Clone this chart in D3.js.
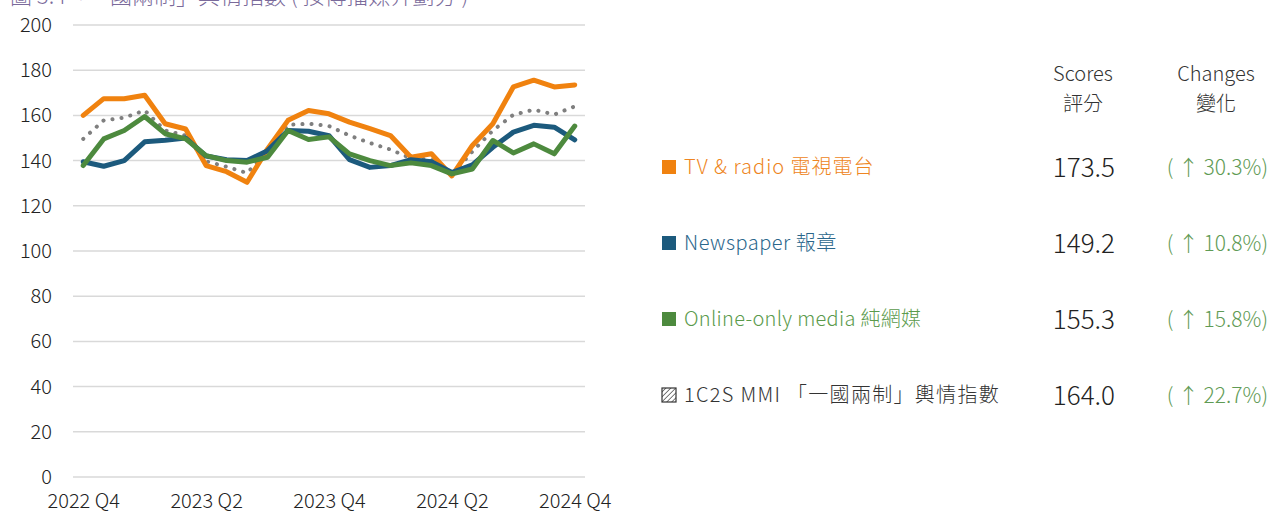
<!DOCTYPE html>
<html>
<head>
<meta charset="utf-8">
<script src="https://cdn.jsdelivr.net/npm/d3@7"></script>
<style>
  body { margin: 0; background: #fff; }
  text { font-family: "Noto Sans CJK TC", "Noto Sans", sans-serif; font-weight: 300; }
</style>
</head>
<body>
<script>
// x axis: monthly points, labels every 6 months
var periods = d3.range(25);
var tickLabels = ["2022 Q4", "2023 Q2", "2023 Q4", "2024 Q2", "2024 Q4"];
var tickIndex = [0, 6, 12, 18, 24];
var yTicks = [0, 20, 40, 60, 80, 100, 120, 140, 160, 180, 200];

var tvRadio = [160.0, 167.4, 167.4, 168.9, 156.3, 154.0, 137.8, 135.1, 130.4, 145.2, 157.8, 162.2, 160.7,
               157.0, 154.1, 151.1, 141.5, 143.0, 133.2, 146.7, 156.3, 172.6, 175.6, 172.6, 173.5];
var newspaper = [139.5, 137.5, 140.0, 148.3, 149.0, 150.0, 142.0, 140.4, 140.0, 144.4, 153.3, 153.0, 151.0,
                 140.4, 137.0, 137.8, 140.4, 139.5, 134.7, 138.1, 145.9, 152.6, 155.6, 154.8, 149.2];
var onlineOnly = [137.8, 149.6, 153.3, 159.5, 151.9, 149.6, 142.2, 140.0, 139.3, 141.5, 153.3, 149.3, 150.5,
                  143.0, 140.0, 137.8, 139.0, 137.8, 134.1, 136.3, 148.9, 143.4, 147.4, 143.0, 155.3];
var mmi = [149.6, 157.8, 159.0, 162.2, 153.3, 151.1, 139.7, 137.3, 134.5, 144.0, 155.8, 156.3, 155.3,
           151.1, 147.8, 144.9, 141.0, 140.5, 133.7, 144.0, 153.3, 160.3, 162.5, 160.4, 164.0];

// legend table
var seriesNames = ["TV & radio 電視電台", "Newspaper 報章", "Online-only media 純網媒", "1C2S MMI 「一國兩制」輿情指數"];
var scores = ["173.5", "149.2", "155.3", "164.0"];
var changes = ["30.3%", "10.8%", "15.8%", "22.7%"];

var width = 1271, height = 514;

var svg = d3.select("body").append("svg")
    .attr("width", width)
    .attr("height", height);

// hatch pattern for the MMI legend box
var pat = svg.append("defs").append("pattern")
    .attr("id", "hatch")
    .attr("patternUnits", "userSpaceOnUse")
    .attr("width", 3.5).attr("height", 3.5)
    .attr("patternTransform", "rotate(45)");
pat.append("line").attr("x1", 0).attr("y1", 0).attr("x2", 0).attr("y2", 3.5)
    .attr("stroke", "#333").attr("stroke-width", 1.3);

// title, cut off by the top of the picture
svg.append("text")
    .attr("x", 10).attr("y", 4)
    .attr("fill", "#7b6b9b")
    .style("font-size", "22px")
    .text("圖 3.4「一國兩制」輿情指數 ( 按傳播媒介劃分 )");

var x = d3.scalePoint()
    .domain(periods)
    .range([73, 585])
    .padding(0.5);

var y = d3.scaleLinear()
    .domain([0, 200])
    .range([477, 25]);

// gridlines
svg.append("g")
    .selectAll("line")
    .data(yTicks)
    .enter().append("line")
    .attr("x1", 73).attr("x2", 585)
    .attr("y1", function(d) { return y(d); })
    .attr("y2", function(d) { return y(d); })
    .attr("stroke", "#d9d9d9")
    .attr("stroke-width", 1.5);

// y axis labels
var yAxis = svg.append("g")
    .attr("transform", "translate(58,0)")
    .call(d3.axisLeft(y).tickValues(yTicks).tickSize(0).tickPadding(6));
yAxis.select(".domain").remove();
yAxis.selectAll("text")
    .attr("fill", "#222")
    .style("font-size", "20px")
    .style("font-family", "'Noto Sans CJK TC', sans-serif");

// x axis labels
var xAxis = svg.append("g")
    .attr("transform", "translate(0,491)")
    .call(d3.axisBottom(x).tickValues(tickIndex).tickSize(0).tickPadding(3)
        .tickFormat(function(d, i) { return tickLabels[i]; }));
xAxis.select(".domain").remove();
xAxis.selectAll("text")
    .attr("fill", "#222")
    .style("font-size", "20px")
    .style("font-family", "'Noto Sans CJK TC', sans-serif");

var line = d3.line()
    .x(function(d, i) { return x(i); })
    .y(function(d) { return y(d); });

// series lines, MMI dotted
var series = [
    {"data": mmi, "color": "#7f7f7f", "dotted": true},
    {"data": tvRadio, "color": "#f0820f", "dotted": false},
    {"data": newspaper, "color": "#1c5a7d", "dotted": false},
    {"data": onlineOnly, "color": "#4d8a3e", "dotted": false}
];

svg.append("g")
    .selectAll("path")
    .data(series)
    .enter().append("path")
    .attr("d", function(d) { return line(d.data); })
    .attr("fill", "none")
    .attr("stroke", function(d) { return d.color; })
    .attr("stroke-width", function(d) { return d.dotted ? 4 : 5; })
    .attr("stroke-linecap", "round")
    .attr("stroke-linejoin", "round")
    .attr("stroke-dasharray", function(d) { return d.dotted ? "0.1 9" : null; });

// legend / score table
var legendColors = ["#f0820f", "#1c5a7d", "#4d8a3e", null];
var textColors = ["#ee8522", "#2b678c", "#5a9a4b", "#333"];
var spacing = [1, 0.5, 0.3, 1.3];
var rowY = [167, 243, 319, 395];

svg.append("text").attr("x", 1083).attr("y", 81).attr("text-anchor", "middle")
    .attr("fill", "#333").style("font-size", "20px").text("Scores");
svg.append("text").attr("x", 1083).attr("y", 111).attr("text-anchor", "middle")
    .attr("fill", "#333").style("font-size", "20px").text("評分");
svg.append("text").attr("x", 1216).attr("y", 81).attr("text-anchor", "middle")
    .attr("fill", "#333").style("font-size", "20px").text("Changes");
svg.append("text").attr("x", 1216).attr("y", 111).attr("text-anchor", "middle")
    .attr("fill", "#333").style("font-size", "20px").text("變化");

var rows = svg.append("g")
    .selectAll("g")
    .data(seriesNames)
    .enter().append("g")
    .attr("transform", function(d, i) { return "translate(0," + rowY[i] + ")"; });

rows.append("rect")
    .attr("x", 662).attr("y", -7)
    .attr("width", 14).attr("height", 14)
    .attr("fill", function(d, i) { return legendColors[i] || "url(#hatch)"; })
    .attr("stroke", function(d, i) { return legendColors[i] ? null : "#333"; })
    .attr("stroke-width", 1.2);

rows.append("text")
    .attr("x", 684).attr("y", 7)
    .attr("fill", function(d, i) { return textColors[i]; })
    .style("font-size", "20px")
    .style("letter-spacing", function(d, i) { return spacing[i] + "px"; })
    .text(function(d) { return d; });

rows.append("text")
    .attr("x", 1115).attr("y", 10)
    .attr("text-anchor", "end")
    .attr("fill", "#222")
    .style("font-size", "26px")
    .text(function(d, i) { return scores[i]; });

rows.append("text")
    .attr("x", 1268).attr("y", 8)
    .attr("text-anchor", "end")
    .attr("fill", "#5f9b55")
    .style("font-size", "21px")
    .text(function(d, i) { return "( ↑ " + changes[i] + ")"; });
</script>
</body>
</html>
